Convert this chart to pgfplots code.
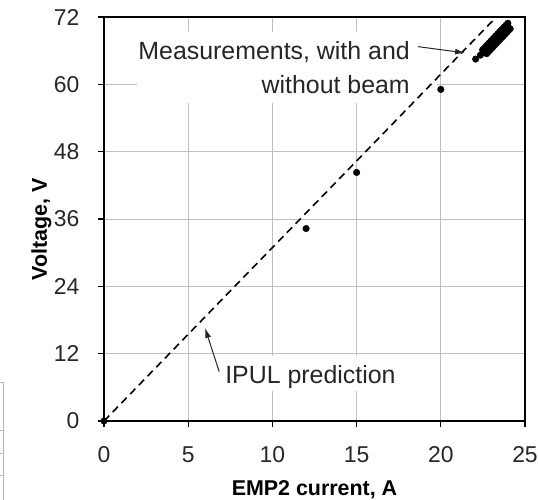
\documentclass[border=0pt]{standalone}
\usepackage{pgfplots}
\pgfplotsset{compat=1.18}
\usepackage{fontspec}
\setmainfont{Liberation Sans}
\usetikzlibrary{arrows.meta}
\begin{document}
\begin{tikzpicture}
\useasboundingbox (-104bp,-79bp) rectangle (434bp,421bp);
% fragment of neighbouring figure at the left edge
\draw[gray!55, line width=0.9bp] (-101bp,-79bp) -- (-101bp,39bp) -- (-104bp,39bp);
\foreach \yy in {-9,-32,-54} \draw[gray!55, line width=0.8bp] (-104bp,\yy bp) -- (-101bp,\yy bp);
\begin{axis}[
  at={(0,0)}, anchor=south west, scale only axis,
  width=421bp, height=404bp,
  xmin=0, xmax=25, ymin=0, ymax=72,
  xtick={0,5,...,25}, ytick={0,12,...,72},
  grid=major, major grid style={black!25, line width=0.9bp},
  tick align=outside, xtick pos=left, ytick pos=left,
  major tick length=6bp,
  axis line style={black, line width=1.3bp},
  tick style={black, line width=1.1bp},
  /pgf/number format/assume math mode=true,
  ticklabel style={font=\fontsize{23}{23}\selectfont, text=black!85},
  xticklabel style={anchor=base, yshift=-35bp},
  yticklabel style={xshift=-15bp},
  xlabel={EMP2 current, A}, ylabel={Voltage, V},
  every axis x label/.style={at={(axis description cs:0.5,0)}, anchor=base, yshift=-74bp, font=\bfseries\fontsize{21.5}{22}\selectfont},
  every axis y label/.style={at={(axis description cs:0,0.475)}, xshift=-57bp, rotate=90, anchor=base, font=\bfseries\fontsize{21.5}{22}\selectfont},
]
% white boxes behind the annotation texts
\fill[white] (axis cs:1.96,56.7) rectangle (axis cs:19.8,69.3);
\fill[white] (axis cs:6.89,5.35) rectangle (axis cs:17.58,11.59);
% IPUL prediction
\addplot[black, line width=1.6bp, dash pattern=on 7.5bp off 5bp] coordinates {(0,0) (23.3,72)};
% measurements
\addplot[only marks, mark=*, mark size=3.3bp, black] coordinates {
(0,0) (12,34.3) (15,44.3) (20,59.1) (22.07,64.5) (22.35,65.2)
(22.6,65.80) (22.7,66.12) (22.8,66.43) (22.9,66.75) (23.0,67.07) (23.1,67.39) (23.2,67.70) (23.3,68.02)
(23.4,68.34) (23.5,68.65) (23.6,68.97) (23.7,69.29) (23.8,69.60) (23.9,69.92) (24.0,70.24)
(22.72,65.47) (22.82,65.79) (22.92,66.10) (23.02,66.42) (23.12,66.74) (23.22,67.06) (23.32,67.37) (23.42,67.69)
(23.52,68.01) (23.62,68.32) (23.72,68.64) (23.82,68.96) (23.92,69.27) (24.02,69.59) (24.12,69.91)
(22.48,66.13) (22.58,66.45) (22.68,66.76) (22.78,67.08) (22.88,67.40) (22.98,67.72) (23.08,68.03) (23.18,68.35)
(23.28,68.67) (23.38,68.98) (23.48,69.30) (23.58,69.62) (23.68,69.93) (23.78,70.25) (23.88,70.57) (23.98,70.89)
};
% annotations
\node[anchor=base east, inner sep=0pt, font=\fontsize{25}{25}\selectfont, text=black!85] at (axis cs:18.17,64.35) {Measurements, with and};
\node[anchor=base east, inner sep=0pt, font=\fontsize{25}{25}\selectfont, text=black!85] at (axis cs:18.17,58.3) {without beam};
\draw[black!85, line width=1bp, -{Latex[length=10bp,width=6bp]}] (axis cs:18.65,66.72) -- (axis cs:21.44,65.6);
\node[anchor=base west, inner sep=0pt, font=\fontsize{25}{25}\selectfont, text=black!85] at (axis cs:7.19,6.6) {IPUL prediction};
\draw[black!85, line width=1bp, -{Latex[length=10bp,width=6bp]}] (axis cs:6.84,8.79) -- (axis cs:6.0,16.58);
\end{axis}
\end{tikzpicture}
\end{document}
